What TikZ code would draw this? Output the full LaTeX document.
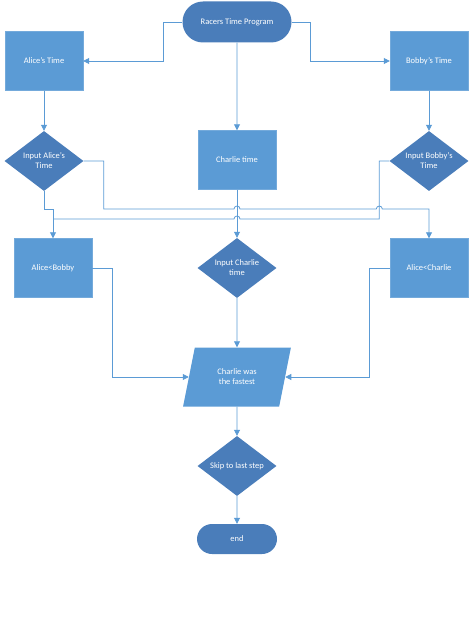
\documentclass[tikz,border=0pt]{standalone}
\usepackage{fontspec}
\setmainfont{Carlito}
\usetikzlibrary{positioning,shapes.geometric,shapes.misc,arrows.meta}
\definecolor{boxblue}{RGB}{91,155,213}
\definecolor{darkblue}{RGB}{74,125,186}
\definecolor{lineblue}{RGB}{91,155,213}

\begin{document}
\begin{tikzpicture}[x=1bp,y=1bp,
  txt/.style={font=\fontsize{8.5}{10}\selectfont, text=white, align=center},
  box/.style={txt, rectangle, fill=boxblue, draw=boxblue!85!white, minimum width=78bp, minimum height=59bp, inner sep=0pt},
  dia/.style={txt, diamond, fill=darkblue, minimum width=79bp, minimum height=60bp, inner sep=0pt, aspect=1.32},
  term/.style={txt, rounded rectangle, fill=darkblue, inner sep=0pt},
  para/.style={txt, trapezium, trapezium left angle=71, trapezium right angle=109, trapezium stretches=true, fill=boxblue, minimum width=108bp, minimum height=59bp, inner sep=0pt},
  flow/.style={draw=lineblue, line width=0.8pt, -{Triangle[length=6bp,width=6bp]}},
  wire/.style={draw=lineblue, line width=0.8pt}]
\useasboundingbox (0,0) rectangle (474,-639);
%top
\node[term, minimum width=109bp, minimum height=41bp] (start) at (237,-22) {Racers Time Program};
\node[box] (alice) at (44,-61) {Alice's Time};
\node[box] (bobby) at (429,-61) {Bobby's Time};
%inputs
\node[dia] (ina) at (44,-161) {Input Alice's\\Time};
\node[box] (charlie) at (237,-160) {Charlie time};
\node[dia] (inb) at (429,-161) {Input Bobby's\\Time};
%checks
\node[box] (abob) at (53,-268) {Alice<Bobby};
\node[dia] (inc) at (237,-268) {Input Charlie\\time};
\node[box] (acha) at (429,-268) {Alice<Charlie};
%bottom
\node[para] (fast) at (237,-377) {Charlie was\\the fastest};
\node[dia] (skip) at (237,-466) {Skip to last step};
\node[term, minimum width=80bp, minimum height=30bp] (stop) at (237,-539) {end};
%rows of the crossing lines
\coordinate (rowa) at (0,-209);
\coordinate (rowb) at (0,-219);
%
\draw[flow] (start.west) -- ++(-19,0) |- (alice);
\draw[flow] (start.east) -- ++(19,0) |- (bobby);
\draw[flow] (start) -- (charlie);
\draw[flow] (alice) -- (ina);
\draw[flow] (bobby) -- (inb);
\draw[flow] (charlie) -- (inc);
\draw[flow] (ina.east) -- ++(20,0) |- ([xshift=-3bp]inc.north |- rowa)
  arc[start angle=180, end angle=0, radius=3bp] -- ([xshift=-13bp]inb.west |- rowa)
  arc[start angle=180, end angle=0, radius=3bp] -| (acha);
\draw[flow] (ina.south) -- (ina.south |- rowa) -| (abob);
\draw[wire] (inb.west) -- ++(-10,0) |- ([xshift=3bp]inc.north |- rowb)
  arc[start angle=0, end angle=180, radius=3bp] -- (abob.north |- rowb);
\draw[flow] (abob.east) -- ++(20,0) |- (fast);
\draw[flow] (acha.west) -- ++(-20,0) |- (fast);
\draw[flow] (inc) -- (fast);
\draw[flow] (fast) -- (skip);
\draw[flow] (skip) -- (stop);
\end{tikzpicture}
\end{document}
